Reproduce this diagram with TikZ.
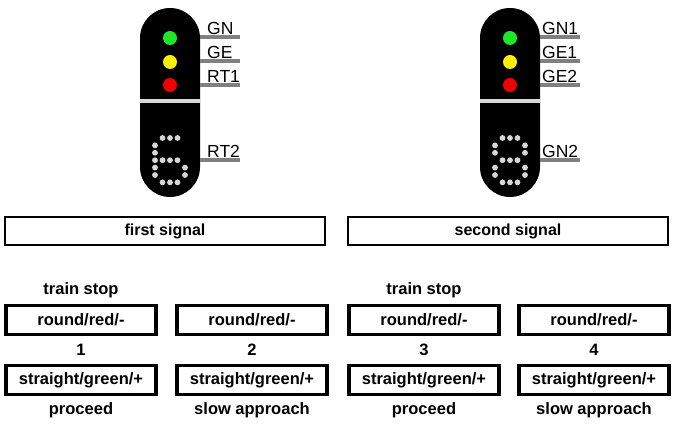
\documentclass[tikz,border=0pt]{standalone}
\usepackage{fontspec}
\setmainfont{Liberation Sans}
\usetikzlibrary{positioning}
\definecolor{lamp-green}{RGB}{30, 230, 40}
\definecolor{lamp-yellow}{RGB}{250, 240, 0}
\definecolor{lamp-red}{RGB}{240, 0, 0}
\definecolor{dot-gray}{RGB}{215, 215, 215}
\tikzset{
  wire/.style={draw=gray, line width=3.5pt},
  wirelabel/.style={anchor=south west, inner sep=1pt, font=\fontsize{17.5}{17.5}\selectfont},
  titlebox/.style={draw, line width=1.8pt, minimum width=320pt, minimum height=28pt, font=\bfseries\fontsize{16}{16}\selectfont},
  statebox/.style={draw, line width=3.5pt, minimum width=150pt, minimum height=29pt, font=\bfseries\fontsize{16.5}{16.5}\selectfont},
  caption/.style={font=\bfseries\fontsize{16.5}{16.5}\selectfont, inner sep=1pt}
}
\begin{document}
\begin{tikzpicture}[x=1pt,y=-1pt]
\useasboundingbox (0,0) rectangle (678,430);
% signal heads
\foreach \cx/\nm in {170/one,510/two} {
  \fill[black, rounded corners=30pt] (\cx-30,8) rectangle (\cx+30,197);
  \draw[dot-gray, line width=3.5pt] (\cx-30,101) -- (\cx+30,101);
  \fill[lamp-green] (\cx,38) circle (7);
  \fill[lamp-yellow] (\cx,62) circle (7);
  \fill[lamp-red] (\cx,85) circle (7);
  \foreach \yy/\k in {37/a,61/b,85/c,160/d}
    \coordinate (\nm-\k) at (\cx+30,\yy);
}
% digit 6
\foreach \c/\r in {1/0,2/0,3/0,0/1,0/2,0/3,1/3,2/3,3/3,0/4,4/4,0/5,4/5,1/6,2/6,3/6}
  \fill[dot-gray] (155+\c*7.5,138+\r*7.4) circle (2.9);
% digit 8
\foreach \c/\r in {1/0,2/0,3/0,0/1,4/1,0/2,4/2,1/3,2/3,3/3,0/4,4/4,0/5,4/5,1/6,2/6,3/6}
  \fill[dot-gray] (495+\c*7.5,138+\r*7.4) circle (2.9);
% connectors
\foreach \k/\txt in {a/GN,b/GE,c/RT1,d/RT2} {
  \coordinate (one-\k-end) at ([xshift=40pt]one-\k);
  \draw[wire] (one-\k) -- (one-\k-end);
  \node[wirelabel] at ([xshift=6pt,yshift=1pt]one-\k) {\txt};
}
\foreach \k/\txt in {a/GN1,b/GE1,c/GE2,d/GN2} {
  \coordinate (two-\k-end) at ([xshift=40pt]two-\k);
  \draw[wire] (two-\k) -- (two-\k-end);
  \node[wirelabel] at ([xshift=1pt,yshift=1pt]two-\k) {\txt};
}
% titles
\node[titlebox] (first) at (165,231) {first signal};
\node[titlebox] (second) at (508,231) {second signal};
% aspects
\foreach \i/\xx/\bottom in {1/81/proceed,2/252/slow approach,3/424/proceed,4/594/slow approach} {
  \node[statebox] (stop\i) at (\xx,320) {round/red/-};
  \node[statebox] (go\i) at (\xx,380) {straight/green/+};
  \node[caption] (num\i) at (\xx,350) {\i};
  \node[caption] (cap\i) at (\xx,410) {\bottom};
}
\node[caption, above=5pt of stop1] (halt1) {train stop};
\node[caption, above=5pt of stop3] (halt3) {train stop};
\end{tikzpicture}
\end{document}
